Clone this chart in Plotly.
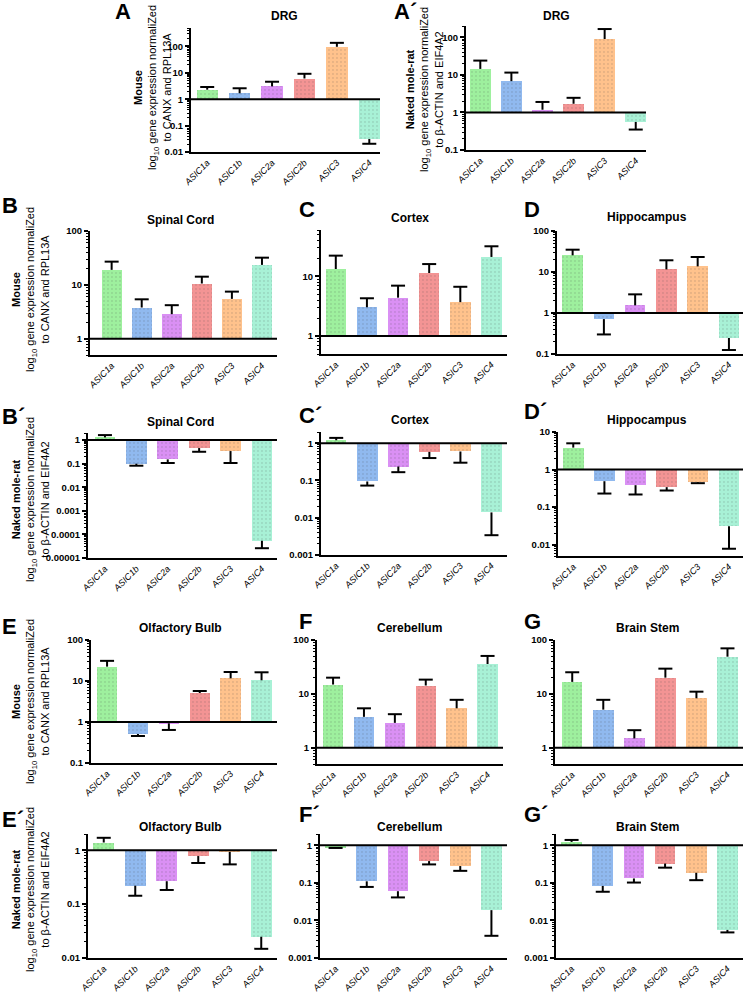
import math
import plotly.graph_objects as go

W, H = 744, 992

genes = ["ASIC1a", "ASIC1b", "ASIC2a", "ASIC2b", "ASIC3", "ASIC4"]
bar_colors = ["#9ef09e", "#90b9ef", "#da90f4", "#f39494", "#ffc28c", "#a8f1d6"]
dot_colors = ["#5cbf5c", "#5a86c8", "#a85cc8", "#c85c5c", "#d8935a", "#6cc8a4"]

# Mouse, normalized to CANX and RPL13A (mean, and end of the error bar)
drg_mouse = [2.3, 1.68, 3.07, 6.1, 97, 0.031]
drg_mouse_err = [2.9, 2.6, 4.6, 9.2, 137, 0.0205]
spinal_mouse = [19, 3.8, 2.86, 10.6, 5.5, 23.5]
spinal_mouse_err = [27, 5.4, 4.2, 14.2, 7.5, 32]
cortex_mouse = [13.3, 3.04, 4.4, 11.4, 3.7, 21.2]
cortex_mouse_err = [22.3, 4.3, 7.0, 16.1, 6.7, 32]
hippo_mouse = [25.5, 0.71, 1.54, 11.6, 13.7, 0.246]
hippo_mouse_err = [35, 0.30, 2.85, 19.3, 23.2, 0.125]
olf_mouse = [22.4, 0.51, 0.93, 5.1, 11.6, 10.4]
olf_mouse_err = [31, 0.455, 0.64, 5.7, 16.6, 16.3]
cereb_mouse = [14.9, 3.75, 2.9, 14.3, 5.4, 35.9]
cereb_mouse_err = [20, 5.4, 4.2, 18.4, 7.76, 50.6]
stem_mouse = [16.7, 5.1, 1.49, 20, 8.3, 49]
stem_mouse_err = [25.2, 7.76, 2.12, 29.4, 11.0, 70]

# Naked mole-rat, normalized to beta-ACTIN and EIF4A2
drg_nmr = [14.4, 6.8, 1.18, 1.7, 90, 0.56]
drg_nmr_err = [24, 11.5, 1.9, 2.45, 166, 0.35]
spinal_nmr = [1.3, 0.1, 0.152, 0.46, 0.343, 5.4e-5]
spinal_nmr_err = [1.63, 0.082, 0.107, 0.32, 0.107, 2.6e-5]
cortex_nmr = [1.2, 0.094, 0.237, 0.586, 0.6, 0.0139]
cortex_nmr_err = [1.39, 0.073, 0.167, 0.40, 0.30, 0.0034]
hippo_nmr = [3.84, 0.49, 0.384, 0.34, 0.46, 0.031]
hippo_nmr_err = [5.0, 0.23, 0.217, 0.277, 0.434, 0.0078]
olf_nmr = [1.39, 0.22, 0.266, 0.78, 0.93, 0.0248]
olf_nmr_err = [1.7, 0.143, 0.183, 0.58, 0.546, 0.0148]
cereb_nmr = [0.9, 0.11, 0.06, 0.38, 0.28, 0.0188]
cereb_nmr_err = [0.85, 0.078, 0.041, 0.31, 0.209, 0.0039]
stem_nmr = [1.23, 0.083, 0.131, 0.327, 0.186, 0.0056]
stem_nmr_err = [1.39, 0.058, 0.102, 0.254, 0.118, 0.0048]

# panel: letter, title, values, errors, box in px (left, right, top, bottom), y range, x range
panels = [
    ("A", "DRG", drg_mouse, drg_mouse_err, (191, 380, 28, 152), (0.01, 500), (-0.5, 5.33)),
    ("A´", "DRG", drg_nmr, drg_nmr_err, (466, 646, 26, 150), (0.1, 200), (-0.46, 5.33)),
    ("B", "Spinal Cord", spinal_mouse, spinal_mouse_err, (90, 277, 231, 355), (0.5, 100), (-0.72, 5.5)),
    ("C", "Cortex", cortex_mouse, cortex_mouse_err, (321, 507, 230, 354), (0.5, 60), (-0.475, 5.5)),
    ("D", "Hippocampus", hippo_mouse, hippo_mouse_err, (557, 743, 231, 354), (0.1, 100), (-0.5, 5.45)),
    ("B´", "Spinal Cord", spinal_nmr, spinal_nmr_err, (88, 277, 433, 558), (1e-5, 2), (-0.54, 5.48)),
    ("C´", "Cortex", cortex_nmr, cortex_nmr_err, (321, 507, 432, 555), (0.001, 2), (-0.49, 5.5)),
    ("D´", "Hippocampus", hippo_nmr, hippo_nmr_err, (558, 743, 432, 556), (0.005, 10), (-0.49, 5.45)),
    ("E", "Olfactory Bulb", olf_mouse, olf_mouse_err, (91, 277, 640, 763), (0.1, 100), (-0.52, 5.5)),
    ("F", "Cerebellum", cereb_mouse, cereb_mouse_err, (317, 503, 640, 764), (0.5, 100), (-0.52, 5.5)),
    ("G", "Brain Stem", stem_mouse, stem_mouse_err, (555, 743, 640, 764), (0.5, 100), (-0.555, 5.5)),
    ("E´", "Olfactory Bulb", olf_nmr, olf_nmr_err, (88, 277, 834, 958), (0.01, 2), (-0.5, 5.5)),
    ("F´", "Cerebellum", cereb_nmr, cereb_nmr_err, (320, 507, 834, 958), (0.001, 2), (-0.5, 5.5)),
    ("G´", "Brain Stem", stem_nmr, stem_nmr_err, (556, 743, 834, 958), (0.001, 2), (-0.5, 5.5)),
]

# letter positions (left, centre y) and title centres in px
letter_pos = [(113, 11), (392, 12), (0, 205), (297, 210), (522, 209),
              (0, 416), (297, 415), (522, 412), (0, 626), (297, 621), (522, 621),
              (0, 819), (297, 814), (522, 814)]
title_pos = [(284, 16), (556, 16), (180, 220), (410, 218), (647, 217),
             (180, 422), (410, 420), (647, 420), (180, 628), (410, 628), (647, 628),
             (180, 827), (410, 827), (647, 827)]

mouse_title = "<b>Mouse</b><br>log<sub>10</sub> gene expression normaliZed<br>to CANX and RPL13A"
nmr_title = "<b>Naked mole-rat</b><br>log<sub>10</sub> gene expression normaliZed<br>to β-ACTIN and EIF4A2"
ytitle_pos = [(152, 88, mouse_title), (425, 90, nmr_title), (30, 290, mouse_title),
              (30, 500, nmr_title), (30, 702, mouse_title), (30, 890, nmr_title)]

FONT = "Liberation Sans, Arial, sans-serif"


def dec_label(e):
    return str(10 ** e) if e >= 0 else "0." + "0" * (-e - 1) + "1"


fig = go.Figure()
layout = {}
shapes = []
annotations = []

for i, (letter, title, vals, errs, box, yr, xr) in enumerate(panels):
    n = i + 1
    xa = "x" if n == 1 else f"x{n}"
    ya = "y" if n == 1 else f"y{n}"
    xl, xrt, yt, yb = box
    lo, hi = math.log10(yr[0]), math.log10(yr[1])

    # bars grow from the baseline at 1, up or down
    base = [min(v, 1) for v in vals]
    size = [abs(v - 1) for v in vals]
    fig.add_trace(go.Bar(
        x=genes, y=size, base=base, width=0.66,
        marker=dict(color=bar_colors, line_width=0,
                    pattern=dict(shape=".", fgcolor=dot_colors, size=4,
                                 solidity=0.1, fgopacity=0.3)),
        xaxis=xa, yaxis=ya, showlegend=False, hoverinfo="skip"))

    # one-sided error bars: stem + cap at the far end
    up = [max(e - v, 0) for v, e in zip(vals, errs)]
    down = [max(v - e, 0) for v, e in zip(vals, errs)]
    fig.add_trace(go.Scatter(
        x=genes, y=vals, mode="markers",
        marker=dict(size=1, color="rgba(0,0,0,0)"),
        error_y=dict(type="data", symmetric=False, array=up, arrayminus=down,
                     color="black", thickness=2, width=0),
        xaxis=xa, yaxis=ya, showlegend=False, hoverinfo="skip"))
    fig.add_trace(go.Scatter(
        x=genes, y=errs, mode="markers",
        marker=dict(symbol="line-ew", size=10, line=dict(width=2, color="black")),
        xaxis=xa, yaxis=ya, showlegend=False, hoverinfo="skip"))

    decades = list(range(math.ceil(lo - 1e-9), math.floor(hi + 1e-9) + 1))
    minor_vals = []
    for e in range(math.floor(lo) - 1, math.ceil(hi) + 1):
        for m in range(2, 10):
            v = m * 10.0 ** e
            if lo <= math.log10(v) <= hi:
                minor_vals.append(v)

    layout["xaxis" if n == 1 else f"xaxis{n}"] = dict(
        domain=[xl / W, xrt / W], anchor=ya, range=list(xr), automargin=False,
        type="category", categoryorder="array", categoryarray=genes,
        showline=True, linecolor="black", linewidth=2, ticks="",
        tickangle=-45, showgrid=False, zeroline=False,
        tickfont=dict(family=FONT, size=9, color="black", style="italic"))
    layout["yaxis" if n == 1 else f"yaxis{n}"] = dict(
        domain=[1 - yb / H, 1 - yt / H], anchor=xa, type="log", range=[lo, hi],
        automargin=False,
        showline=True, linecolor="black", linewidth=2, showgrid=False, zeroline=False,
        ticks="outside", ticklen=4, tickwidth=1.5, tickcolor="black",
        tickmode="array", tickvals=[10.0 ** e for e in decades],
        ticktext=[dec_label(e) for e in decades],
        minor=dict(tickmode="array", tickvals=minor_vals, ticks="outside",
                   ticklen=2, tickwidth=1, tickcolor="black"),
        tickfont=dict(family=FONT, size=9.5, color="black", weight="bold"))

    # baseline at 1
    shapes.append(dict(type="line", xref=f"{xa} domain", yref=ya,
                       x0=0, x1=1, y0=1, y1=1, line=dict(color="black", width=2)))

    lx, ly = letter_pos[i]
    annotations.append(dict(x=lx / W, y=1 - ly / H, xref="paper", yref="paper",
                            text=f"<b>{letter}</b>", showarrow=False,
                            xanchor="left", yanchor="middle",
                            font=dict(family=FONT, size=22, color="black")))
    tx, ty = title_pos[i]
    annotations.append(dict(x=tx / W, y=1 - ty / H, xref="paper", yref="paper",
                            text=f"<b>{title}</b>", showarrow=False,
                            xanchor="center", yanchor="middle",
                            font=dict(family=FONT, size=12, color="black")))

for px, py, txt in ytitle_pos:
    annotations.append(dict(x=px / W, y=1 - py / H, xref="paper", yref="paper",
                            text=txt, showarrow=False, textangle=-90,
                            xanchor="center", yanchor="middle", align="center",
                            font=dict(family=FONT, size=11, color="black")))

fig.update_layout(
    width=W, height=H,
    margin=dict(l=0, r=0, t=0, b=0, autoexpand=False),
    paper_bgcolor="white", plot_bgcolor="white",
    showlegend=False, bargap=0,
    shapes=shapes, annotations=annotations,
    **layout)

# the page's default body margin would push the 744x992 figure off the window
fig.write_html("out.html", config={"displayModeBar": False},
               post_script="document.body.style.margin='0';"
                           "document.body.style.overflow='hidden';")
